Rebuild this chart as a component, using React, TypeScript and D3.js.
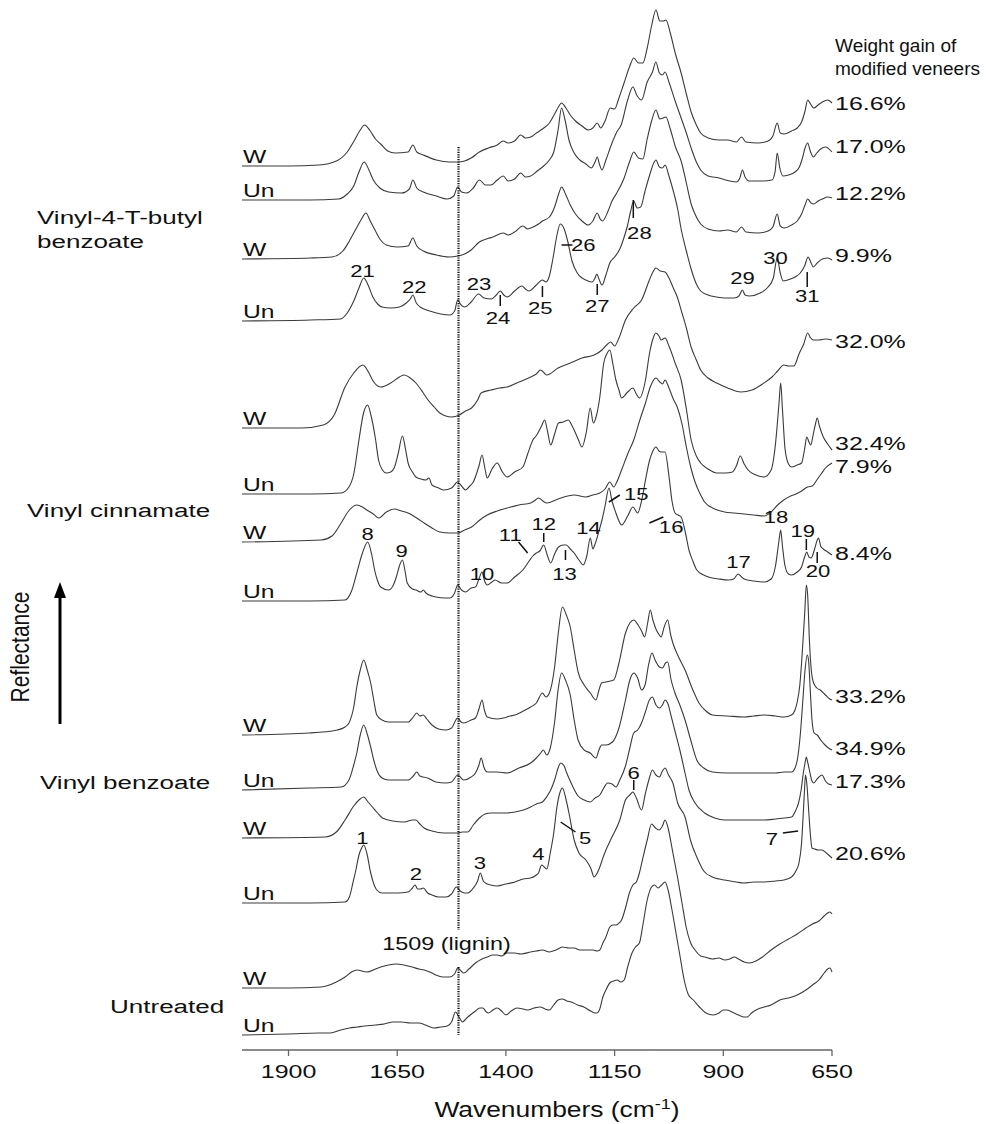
import React from "react";
import * as d3 from "d3";

type Pt = [number, number];

// wavenumber (cm-1), reflectance above each trace's own baseline (a.u.)
const vtbW1: Pt[] = [[2007,0],[1900,0],[1830,1],[1790,5],[1765,14],[1748,26],[1735,36],[1725,41],[1712,35],[1700,27],[1688,22],[1672,15],[1655,13],[1625,14],[1614,21],[1605,14],[1590,11],[1560,6],[1530,4],[1511,4],[1495,5],[1480,8],[1461,14],[1440,18],[1420,21],[1406,25],[1395,23],[1380,25],[1366,31],[1355,28],[1343,29],[1330,33],[1316,37],[1300,43],[1288,52],[1278,60],[1272,63],[1262,58],[1252,51],[1240,45],[1225,40],[1211,36],[1200,38],[1190,43],[1182,38],[1172,45],[1160,58],[1150,57],[1140,68],[1129,82],[1115,100],[1106,108],[1095,103],[1085,103],[1075,118],[1065,140],[1055,156],[1046,145],[1038,145],[1032,146],[1022,133],[1010,112],[997,93],[985,72],[974,54],[962,41],[952,33],[935,28],[910,26],[890,26],[870,24],[858,29],[848,24],[820,23],[797,25],[786,30],[776,43],[769,33],[760,32],[743,35],[730,38],[720,44],[712,55],[706,66],[698,61],[692,58],[682,61],[672,64],[660,66],[650,63]];
const vtbUn1: Pt[] = [[2007,0],[1850,0],[1785,1],[1765,6],[1750,14],[1738,28],[1726,38],[1715,30],[1705,20],[1690,12],[1670,8],[1640,7],[1622,11],[1614,20],[1605,12],[1590,8],[1560,4],[1535,1],[1520,4],[1511,13],[1502,8],[1490,7],[1475,12],[1461,20],[1447,15],[1434,15],[1420,20],[1406,24],[1395,19],[1380,21],[1366,27],[1355,23],[1343,24],[1328,29],[1316,33],[1300,40],[1290,48],[1280,70],[1272,92],[1264,80],[1255,60],[1243,47],[1230,40],[1216,36],[1204,32],[1195,38],[1190,43],[1185,36],[1179,30],[1170,40],[1156,57],[1145,68],[1135,75],[1120,100],[1108,113],[1098,104],[1088,100],[1075,118],[1063,128],[1055,138],[1047,127],[1040,125],[1034,128],[1025,118],[1010,98],[997,82],[985,67],[974,52],[962,38],[952,30],[935,24],[910,22],[885,19],[870,18],[862,22],[856,30],[850,23],[840,19],[810,19],[788,20],[781,28],[776,47],[770,32],[763,24],[750,25],[735,28],[725,33],[718,42],[712,52],[706,57],[700,49],[693,43],[685,47],[676,51],[665,53],[650,48]];
const vtbW2: Pt[] = [[2007,0],[1850,1],[1800,2],[1775,8],[1760,18],[1745,30],[1732,40],[1722,46],[1712,38],[1700,28],[1690,20],[1675,14],[1650,12],[1625,13],[1614,21],[1605,13],[1590,8],[1560,4],[1530,2],[1511,3],[1495,5],[1480,9],[1461,17],[1445,20],[1430,22],[1406,26],[1395,24],[1380,27],[1361,33],[1350,30],[1343,31],[1325,35],[1316,38],[1300,42],[1288,52],[1278,66],[1272,72],[1262,64],[1252,54],[1240,45],[1225,38],[1211,34],[1200,38],[1190,46],[1183,40],[1178,38],[1165,48],[1156,58],[1145,66],[1129,80],[1115,98],[1106,107],[1095,101],[1085,100],[1075,120],[1065,138],[1055,149],[1046,140],[1038,141],[1032,142],[1022,130],[1010,112],[997,98],[985,76],[974,55],[962,42],[952,35],[935,30],[910,28],[890,29],[870,27],[858,32],[848,27],[820,26],[797,28],[786,32],[776,45],[769,33],[760,31],[743,34],[730,38],[720,45],[712,54],[706,60],[698,56],[692,55],[682,58],[672,60],[660,62],[650,61]];
const vtbUn2: Pt[] = [[2007,0],[1850,1],[1780,2],[1765,8],[1750,20],[1738,33],[1727,43],[1717,36],[1706,24],[1695,17],[1685,14],[1665,13],[1645,14],[1629,18],[1620,22],[1614,26],[1606,18],[1597,14],[1575,10],[1550,7],[1529,6],[1518,10],[1511,21],[1503,16],[1495,14],[1480,19],[1463,27],[1450,23],[1434,22],[1422,26],[1413,30],[1405,26],[1397,24],[1380,30],[1363,35],[1355,32],[1347,30],[1330,36],[1316,41],[1308,39],[1300,45],[1292,62],[1283,85],[1275,97],[1266,92],[1258,80],[1248,60],[1236,48],[1225,43],[1216,41],[1202,39],[1195,43],[1191,47],[1186,42],[1179,36],[1170,46],[1161,58],[1150,64],[1138,72],[1128,84],[1120,96],[1113,110],[1106,120],[1098,113],[1090,114],[1080,130],[1070,145],[1060,158],[1055,161],[1047,154],[1040,153],[1034,156],[1025,145],[1015,130],[1005,112],[997,92],[985,70],[974,52],[962,37],[952,30],[935,26],[915,24],[897,23],[875,23],[864,25],[856,31],[850,26],[840,25],[815,28],[797,34],[785,43],[776,63],[769,48],[762,40],[752,41],[735,44],[723,48],[713,55],[705,64],[698,58],[693,54],[684,58],[672,62],[660,63],[650,61]];

const vcW1: Pt[] = [[2007,0],[1870,0],[1820,3],[1795,13],[1770,41],[1750,55],[1729,63],[1715,55],[1707,48],[1688,41],[1665,45],[1645,51],[1634,53],[1620,50],[1607,45],[1590,35],[1579,28],[1565,21],[1552,15],[1525,11],[1507,13],[1493,17],[1479,20],[1465,28],[1457,35],[1434,38],[1415,40],[1397,41],[1370,46],[1343,51],[1330,54],[1320,58],[1312,55],[1306,53],[1280,60],[1252,65],[1225,70],[1197,73],[1179,78],[1166,84],[1159,86],[1150,82],[1140,90],[1125,108],[1106,120],[1088,128],[1070,148],[1062,156],[1055,160],[1045,157],[1034,156],[1025,150],[1015,140],[1006,131],[995,115],[985,100],[974,81],[962,68],[952,58],[935,50],[915,45],[890,40],[860,36],[834,38],[810,44],[788,51],[775,57],[761,63],[750,62],[738,62],[725,75],[715,84],[706,95],[699,90],[693,88],[680,88],[665,89],[650,88]];
const vcUn1: Pt[] = [[2007,0],[1850,0],[1779,1],[1761,7],[1750,20],[1738,54],[1728,80],[1718,89],[1710,78],[1700,55],[1693,34],[1684,24],[1675,21],[1665,22],[1657,26],[1648,40],[1638,58],[1631,45],[1625,31],[1615,22],[1607,17],[1595,15],[1584,14],[1577,16],[1570,9],[1555,6],[1543,4],[1525,6],[1511,12],[1502,8],[1493,4],[1483,8],[1475,12],[1462,28],[1455,39],[1448,25],[1443,16],[1432,25],[1420,31],[1408,22],[1397,17],[1380,22],[1361,27],[1350,40],[1338,54],[1329,59],[1318,68],[1311,74],[1304,62],[1297,49],[1288,60],[1279,71],[1268,72],[1256,74],[1250,70],[1243,64],[1234,55],[1225,47],[1215,62],[1206,86],[1199,71],[1192,78],[1184,97],[1175,131],[1168,140],[1161,144],[1154,130],[1147,114],[1140,104],[1134,96],[1120,102],[1108,106],[1100,100],[1093,96],[1079,114],[1070,140],[1062,155],[1055,161],[1048,158],[1043,154],[1034,156],[1025,148],[1010,130],[997,114],[985,85],[974,54],[962,38],[952,31],[935,25],[915,21],[895,21],[879,22],[870,28],[861,38],[852,30],[843,24],[825,19],[806,17],[790,24],[780,50],[772,90],[768,111],[764,85],[758,45],[750,30],[743,27],[730,29],[720,31],[713,45],[708,57],[703,52],[699,49],[693,60],[688,70],[684,76],[679,68],[670,57],[660,50],[650,44]];
const vcW2: Pt[] = [[2007,0],[1825,2],[1800,6],[1779,19],[1760,32],[1743,37],[1730,35],[1720,32],[1705,28],[1693,24],[1675,30],[1657,33],[1640,31],[1625,29],[1605,24],[1588,19],[1570,14],[1552,10],[1530,9],[1511,9],[1495,12],[1479,15],[1460,22],[1443,27],[1420,31],[1397,34],[1370,37],[1343,39],[1332,42],[1325,44],[1315,41],[1306,39],[1280,43],[1243,47],[1216,45],[1200,47],[1184,49],[1172,53],[1161,60],[1152,55],[1145,60],[1134,72],[1120,88],[1106,102],[1092,122],[1079,139],[1068,155],[1055,164],[1046,160],[1040,158],[1034,162],[1025,154],[1015,143],[1006,135],[995,118],[985,95],[975,75],[965,60],[952,47],[943,40],[920,33],[897,30],[875,29],[852,28],[830,27],[806,26],[790,30],[775,37],[761,42],[745,46],[733,48],[720,51],[706,55],[695,56],[685,62],[675,68],[665,74],[650,79]];
const vcUn2: Pt[] = [[2007,0],[1850,0],[1770,1],[1755,10],[1743,28],[1730,48],[1718,59],[1708,45],[1702,31],[1695,20],[1688,14],[1670,11],[1660,15],[1652,24],[1645,35],[1638,41],[1632,30],[1627,18],[1615,12],[1607,11],[1595,9],[1590,11],[1584,8],[1570,5],[1561,4],[1540,3],[1529,3],[1518,8],[1511,16],[1502,11],[1493,9],[1480,13],[1470,14],[1462,22],[1455,29],[1449,20],[1443,16],[1432,19],[1425,21],[1410,18],[1397,18],[1380,24],[1361,31],[1345,41],[1338,45],[1330,48],[1322,50],[1313,56],[1305,46],[1297,38],[1288,47],[1279,54],[1268,56],[1261,56],[1252,52],[1243,48],[1232,41],[1222,36],[1214,45],[1206,63],[1200,52],[1195,57],[1184,73],[1179,81],[1172,95],[1163,113],[1156,100],[1147,88],[1140,80],[1134,76],[1120,85],[1108,94],[1097,88],[1088,100],[1079,121],[1070,140],[1062,150],[1055,154],[1048,150],[1043,149],[1034,149],[1025,125],[1018,100],[1011,88],[1004,86],[997,84],[988,70],[979,51],[970,40],[961,31],[945,26],[934,24],[910,22],[888,21],[876,22],[866,27],[858,24],[852,22],[830,20],[806,19],[790,22],[780,35],[772,60],[768,71],[764,55],[758,35],[750,27],[743,26],[730,29],[720,34],[713,44],[708,49],[703,44],[698,43],[690,52],[684,61],[681,63],[676,55],[670,52],[660,49],[650,46]];

const vbW1: Pt[] = [[2007,0],[1852,2],[1788,5],[1770,8],[1761,12],[1750,28],[1743,48],[1735,65],[1727,75],[1719,65],[1711,52],[1704,35],[1697,20],[1685,15],[1670,13],[1645,13],[1625,13],[1613,18],[1605,22],[1598,19],[1590,20],[1582,16],[1570,10],[1555,6],[1538,5],[1525,7],[1511,17],[1503,13],[1497,12],[1480,15],[1470,17],[1462,26],[1455,35],[1449,24],[1443,18],[1420,16],[1406,17],[1390,19],[1379,20],[1360,24],[1343,28],[1330,32],[1316,42],[1308,38],[1300,42],[1288,68],[1280,100],[1270,128],[1261,120],[1252,108],[1243,85],[1234,63],[1220,50],[1206,42],[1193,35],[1186,45],[1180,52],[1170,53],[1152,55],[1140,72],[1125,102],[1115,112],[1106,115],[1096,110],[1088,104],[1081,98],[1074,112],[1068,125],[1062,115],[1054,105],[1047,100],[1043,98],[1036,108],[1028,115],[1021,100],[1016,92],[1005,80],[988,65],[970,45],[956,32],[940,24],[925,20],[890,19],[852,18],[830,19],[806,20],[780,19],[760,18],[743,20],[735,25],[730,33],[724,50],[718,85],[713,120],[709,150],[706,140],[702,95],[697,62],[693,53],[685,47],[677,45],[665,40],[655,36],[650,35]];
const vbUn1: Pt[] = [[2007,0],[1852,2],[1779,3],[1761,10],[1750,25],[1743,37],[1735,55],[1727,65],[1719,56],[1711,43],[1704,30],[1697,20],[1685,12],[1670,10],[1645,10],[1625,10],[1613,14],[1605,18],[1598,14],[1580,12],[1561,8],[1538,7],[1525,8],[1511,15],[1503,12],[1497,10],[1480,13],[1470,17],[1462,25],[1457,32],[1450,22],[1443,18],[1420,18],[1397,17],[1370,22],[1343,27],[1330,32],[1320,37],[1314,40],[1306,35],[1298,42],[1288,68],[1280,100],[1272,117],[1263,110],[1252,95],[1243,70],[1234,50],[1220,40],[1206,37],[1193,32],[1186,40],[1180,45],[1170,45],[1155,48],[1140,62],[1125,90],[1115,110],[1106,117],[1097,112],[1088,100],[1080,105],[1072,125],[1064,137],[1057,130],[1047,123],[1040,122],[1033,127],[1028,128],[1020,110],[1012,98],[1000,85],[988,70],[975,50],[961,30],[945,22],[925,18],[890,17],[852,17],[830,17],[806,17],[780,17],[760,18],[743,18],[735,22],[729,32],[723,55],[717,90],[712,120],[707,135],[704,130],[700,100],[696,70],[691,57],[684,55],[676,50],[666,45],[658,42],[650,40]];
const vbW2: Pt[] = [[2007,0],[1816,1],[1790,6],[1770,18],[1750,32],[1738,38],[1727,41],[1717,36],[1707,31],[1695,25],[1684,20],[1660,17],[1634,16],[1615,18],[1607,18],[1598,14],[1588,10],[1570,7],[1543,5],[1525,5],[1511,5],[1500,6],[1488,6],[1475,13],[1461,20],[1448,24],[1434,25],[1420,25],[1405,25],[1379,26],[1360,28],[1343,31],[1330,34],[1316,36],[1305,42],[1297,48],[1288,58],[1280,70],[1274,75],[1266,72],[1261,66],[1250,55],[1234,42],[1220,38],[1206,36],[1195,40],[1184,43],[1175,50],[1166,55],[1156,54],[1147,51],[1138,58],[1125,72],[1115,90],[1106,105],[1097,108],[1088,115],[1080,125],[1070,138],[1063,141],[1055,133],[1047,130],[1040,133],[1034,138],[1028,135],[1020,122],[1010,105],[1000,88],[988,65],[979,48],[965,35],[943,25],[920,20],[897,18],[870,18],[852,18],[830,18],[806,18],[780,19],[760,20],[743,21],[733,28],[727,35],[721,48],[716,65],[712,75],[709,81],[706,76],[702,68],[696,57],[692,55],[686,58],[680,61],[673,63],[665,57],[658,54],[650,53]];
const vbUn2: Pt[] = [[2007,0],[1850,0],[1770,1],[1760,6],[1752,20],[1745,33],[1738,48],[1732,55],[1727,58],[1720,50],[1711,30],[1703,18],[1697,13],[1685,10],[1670,10],[1650,10],[1625,11],[1615,15],[1609,18],[1603,14],[1596,14],[1590,15],[1580,10],[1570,8],[1555,6],[1538,6],[1525,9],[1514,16],[1505,12],[1495,10],[1488,10],[1475,15],[1465,22],[1459,30],[1452,22],[1447,20],[1435,18],[1420,17],[1400,19],[1379,21],[1360,24],[1343,25],[1330,28],[1325,30],[1318,38],[1312,36],[1306,34],[1298,50],[1290,70],[1283,95],[1276,110],[1270,115],[1262,104],[1255,90],[1243,63],[1232,50],[1216,43],[1205,35],[1197,26],[1190,30],[1184,36],[1177,45],[1170,53],[1156,66],[1138,83],[1125,103],[1115,108],[1108,111],[1100,105],[1088,93],[1080,108],[1070,125],[1063,133],[1055,128],[1047,126],[1040,132],[1034,135],[1026,128],[1016,120],[1005,100],[988,86],[975,62],[961,46],[945,32],[925,26],[910,24],[897,23],[870,21],[852,20],[830,21],[806,21],[780,22],[761,23],[743,26],[733,32],[726,40],[720,60],[716,90],[713,115],[711,128],[708,120],[704,95],[700,70],[696,55],[690,54],[680,53],[673,53],[663,50],[650,45]];

const untrW: Pt[] = [[2007,0],[1900,0],[1825,1],[1790,6],[1770,11],[1755,16],[1743,18],[1720,16],[1700,19],[1688,21],[1670,23],[1652,24],[1635,23],[1616,21],[1600,19],[1588,18],[1570,15],[1561,13],[1545,11],[1530,11],[1518,14],[1511,20],[1503,17],[1497,15],[1485,19],[1470,25],[1455,29],[1443,31],[1430,33],[1420,33],[1410,32],[1397,35],[1380,35],[1365,34],[1343,36],[1330,37],[1316,38],[1300,36],[1285,38],[1270,41],[1255,40],[1243,40],[1230,38],[1216,38],[1200,38],[1190,37],[1184,38],[1177,45],[1170,51],[1161,61],[1154,63],[1147,63],[1140,65],[1134,68],[1125,80],[1116,95],[1108,103],[1100,106],[1093,115],[1085,130],[1075,148],[1065,164],[1056,160],[1048,158],[1040,162],[1034,168],[1027,160],[1018,140],[1005,110],[995,85],[985,60],[975,45],[965,38],[952,32],[943,31],[925,29],[910,30],[897,28],[885,29],[875,31],[865,29],[852,26],[840,25],[825,27],[810,31],[790,38],[770,44],[750,49],[730,54],[710,60],[695,64],[680,67],[668,72],[660,75],[655,76],[650,74]];
const untrUn: Pt[] = [[2007,0],[1900,1],[1830,2],[1804,2],[1780,5],[1760,7],[1742,8],[1725,9],[1700,10],[1680,11],[1659,13],[1640,13],[1620,12],[1600,12],[1585,10],[1566,7],[1550,8],[1535,9],[1525,13],[1516,23],[1508,18],[1500,13],[1490,17],[1482,20],[1470,24],[1460,27],[1453,27],[1445,23],[1440,22],[1430,25],[1420,27],[1410,24],[1400,20],[1388,24],[1374,27],[1360,26],[1350,25],[1335,27],[1321,28],[1310,26],[1300,25],[1290,30],[1280,35],[1270,36],[1260,34],[1250,33],[1235,30],[1221,28],[1205,24],[1195,22],[1191,22],[1185,25],[1177,38],[1170,45],[1161,52],[1152,54],[1144,55],[1136,53],[1128,55],[1120,68],[1110,82],[1102,88],[1093,92],[1085,110],[1075,135],[1065,148],[1058,150],[1050,147],[1042,150],[1034,153],[1027,145],[1018,125],[1008,100],[1000,80],[990,55],[980,40],[969,35],[955,28],[940,22],[923,20],[910,22],[900,25],[892,25],[880,23],[865,20],[852,18],[845,18],[835,22],[820,26],[806,28],[790,30],[770,35],[750,37],[730,40],[710,45],[695,50],[680,55],[668,62],[660,66],[655,67],[650,63]];

const spectra: Pt[][] = [vtbW1, vtbUn1, vtbW2, vtbUn2, vcW1, vcUn1, vcW2, vcUn2, vbW1, vbUn1, vbW2, vbUn2, untrW, untrUn];
const sampleLabels = ["W", "Un", "W", "Un", "W", "Un", "W", "Un", "W", "Un", "W", "Un", "W", "Un"];
// stacking offset of each trace (a.u.)
const offsets = [884, 850, 791, 729, 622, 556, 508, 449, 315, 260, 212, 147, 62, 15];
const weightGains = ["16.6%", "17.0%", "12.2%", "9.9%", "32.0%", "32.4%", "7.9%", "8.4%", "33.2%", "34.9%", "17.3%", "20.6%"];
const gainLabelY = [110, 153, 200, 262, 348, 450, 473, 560, 703, 755, 788, 860];
const wavenumberTicks = [1900, 1650, 1400, 1150, 900, 650];

const groups = [
  { lines: ["Vinyl-4-T-butyl", "benzoate"], x: 37, y: 224 },
  { lines: ["Vinyl cinnamate"], x: 27, y: 517 },
  { lines: ["Vinyl benzoate"], x: 40, y: 789 },
  { lines: ["Untreated"], x: 110, y: 1013 },
];

// peak numbers: label, wavenumber, baseline y, optional tick [w1, y1, w2, y2]
type Ann = { t: string; w: number; y: number; tick?: [number, number, number, number] };
const peakLabels: Ann[] = [
  { t: "21", w: 1730, y: 277 },
  { t: "22", w: 1611, y: 293 },
  { t: "23", w: 1462, y: 290 },
  { t: "24", w: 1418, y: 324, tick: [1413, 295, 1413, 306] },
  { t: "25", w: 1321, y: 314, tick: [1316, 286, 1316, 297] },
  { t: "26", w: 1222, y: 251, tick: [1272, 245, 1247, 245] },
  { t: "27", w: 1190, y: 312, tick: [1190, 284, 1190, 295] },
  { t: "28", w: 1093, y: 239, tick: [1107, 200, 1107, 218] },
  { t: "29", w: 856, y: 284 },
  { t: "30", w: 780, y: 264 },
  { t: "31", w: 707, y: 302, tick: [707, 272, 707, 287] },
  { t: "8", w: 1718, y: 540 },
  { t: "9", w: 1640, y: 557 },
  { t: "10", w: 1455, y: 580 },
  { t: "11", w: 1390, y: 541, tick: [1371, 542, 1350, 553] },
  { t: "12", w: 1313, y: 530, tick: [1313, 533, 1313, 542] },
  { t: "13", w: 1265, y: 580, tick: [1263, 550, 1263, 560] },
  { t: "14", w: 1210, y: 534 },
  { t: "15", w: 1100, y: 500, tick: [1163, 502, 1138, 495] },
  { t: "16", w: 1020, y: 533, tick: [1070, 523, 1038, 517] },
  { t: "17", w: 865, y: 568 },
  { t: "18", w: 779, y: 523 },
  { t: "19", w: 717, y: 537, tick: [709, 539, 709, 550] },
  { t: "20", w: 682, y: 577, tick: [684, 552, 684, 563] },
  { t: "1", w: 1730, y: 844 },
  { t: "2", w: 1607, y: 880 },
  { t: "3", w: 1460, y: 869 },
  { t: "4", w: 1325, y: 860 },
  { t: "5", w: 1218, y: 844, tick: [1274, 822, 1240, 832] },
  { t: "6", w: 1106, y: 779, tick: [1106, 780, 1106, 790] },
  { t: "7", w: 788, y: 845, tick: [763, 833, 728, 831] },
];

const FONT = "'Liberation Sans', Arial, Helvetica, sans-serif";
const INK = "#3a3a3a";

function T({ x, y, size, sx = 1.3, anchor = "start", children }: any) {
  return (
    <text
      transform={`translate(${x},${y}) scale(${sx},1)`}
      fontSize={size}
      fontFamily={FONT}
      fill="#111"
      textAnchor={anchor}
    >
      {children}
    </text>
  );
}

export default function App() {
  const width = 986;
  const height = 1124;
  const x = d3.scaleLinear().domain([2007, 650]).range([242, 832]);
  const y = d3.scaleLinear().domain([0, 1050]).range([1050, 0]);
  const axisY = 1050;
  const lignin = 1509;

  const paths = spectra.map((s, i) =>
    d3
      .line<Pt>()
      .x((d) => x(d[0]))
      .y((d) => y(offsets[i] + d[1]))
      .curve(d3.curveMonotoneX)(s)
  );

  return (
    <svg
      width={width}
      height={height}
      style={{ position: "absolute", left: 0, top: 0, background: "#fff" }}
    >
      {/* spectra */}
      {paths.map((p, i) => (
        <path key={i} d={p || ""} fill="none" stroke={INK} strokeWidth={1.1} />
      ))}

      {/* lignin marker */}
      <line x1={x(lignin)} x2={x(lignin)} y1={147} y2={930} stroke="#111" strokeWidth={2.2} strokeDasharray="1.2,1.2" />
      <line x1={x(lignin)} x2={x(lignin)} y1={967} y2={1035} stroke="#111" strokeWidth={2.2} strokeDasharray="1.2,1.2" />
      <T x={x(lignin) - 12} y={950} size={18} sx={1.3} anchor="middle">1509 (lignin)</T>

      {/* W / Un labels */}
      {sampleLabels.map((s, i) => (
        <T key={i} x={243} y={y(offsets[i]) - 3} size={19} sx={1.3}>
          {s}
        </T>
      ))}

      {/* weight gains */}
      <T x={835} y={52} size={18.5} sx={1.03}>Weight gain of</T>
      <T x={835} y={75} size={18.5} sx={1.03}>modified veneers</T>
      {weightGains.map((g, i) => (
        <T key={i} x={835} y={gainLabelY[i]} size={18.5} sx={1.35}>
          {g}
        </T>
      ))}

      {/* peak numbers */}
      {peakLabels.map((a, i) => (
        <g key={i}>
          <T x={x(a.w)} y={a.y} size={17} sx={1.3} anchor="middle">
            {a.t}
          </T>
          {a.tick && (
            <line
              x1={x(a.tick[0])}
              y1={a.tick[1]}
              x2={x(a.tick[2])}
              y2={a.tick[3]}
              stroke="#111"
              strokeWidth={1.5}
            />
          )}
        </g>
      ))}

      {/* group names */}
      {groups.map((g, i) =>
        g.lines.map((l, j) => (
          <T key={`${i}-${j}`} x={g.x} y={g.y + j * 24} size={19} sx={1.37}>
            {l}
          </T>
        ))
      )}

      {/* reflectance arrow */}
      <line x1={60} x2={60} y1={724} y2={594} stroke="#000" strokeWidth={3} />
      <path d="M60,582 L54,598 L66,598 Z" fill="#000" />
      <text
        transform="translate(29,647) scale(1.2,1) rotate(-90)"
        fontSize={21}
        fontFamily={FONT}
        textAnchor="middle"
        fill="#111"
      >
        Reflectance
      </text>

      {/* x axis */}
      <line x1={x.range()[0]} x2={x.range()[1]} y1={axisY} y2={axisY} stroke="#666" strokeWidth={1.3} />
      {wavenumberTicks.map((t) => (
        <g key={t}>
          <line x1={x(t)} x2={x(t)} y1={axisY} y2={axisY + 6} stroke="#666" strokeWidth={1.3} />
          <T x={x(t)} y={axisY + 28} size={18.5} sx={1.35} anchor="middle">
            {t}
          </T>
        </g>
      ))}
      <text
        transform={`translate(${(x(2007) + x(650)) / 2 + 20},1117) scale(1.2,1)`}
        fontSize={22}
        fontFamily={FONT}
        textAnchor="middle"
        fill="#111"
      >
        Wavenumbers (cm
        <tspan baselineShift="super" fontSize={15}>-1</tspan>)
      </text>
    </svg>
  );
}
